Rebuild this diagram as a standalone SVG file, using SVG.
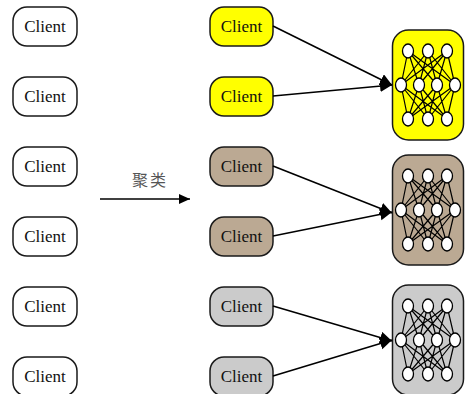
<svg xmlns="http://www.w3.org/2000/svg" width="470" height="394" viewBox="0 0 470 394">
<style>
.c{stroke:#1a1a1a;stroke-width:1.5}
.t{font-family:"Liberation Serif",serif;font-size:17px;fill:#111;text-anchor:middle}
.w{fill:#fff}.y{fill:#ffff00}.b{fill:#bba993}.g{fill:#cbcbcb}
.l{stroke:#000;stroke-width:1.6;fill:none}
.n ellipse{fill:#fff;stroke:#000;stroke-width:1.3}
</style>
<defs>
<marker id="a" markerWidth="14" markerHeight="14" refX="12" refY="6" orient="auto" markerUnits="userSpaceOnUse"><path d="M0 0L12 6L0 12Z" fill="#000"/></marker>
<marker id="s" markerWidth="12" markerHeight="12" refX="11" refY="5" orient="auto" markerUnits="userSpaceOnUse"><path d="M0 0L11 5L0 10Z" fill="#000"/></marker>
<g id="net" class="n">
<path d="M408 51L401 85M408 51L419 85M408 51L437 85M408 51L455 85M428 51L401 85M428 51L419 85M428 51L437 85M428 51L455 85M447 51L401 85M447 51L419 85M447 51L437 85M447 51L455 85M408 119L401 85M408 119L419 85M408 119L437 85M408 119L455 85M428 119L401 85M428 119L419 85M428 119L437 85M428 119L455 85M447 119L401 85M447 119L419 85M447 119L437 85M447 119L455 85" stroke="#000" stroke-width="1.2" fill="none"/>
<ellipse cx="408" cy="51" rx="5.500" ry="7"/><ellipse cx="428" cy="51" rx="5.500" ry="7"/><ellipse cx="447" cy="51" rx="5.500" ry="7"/>
<ellipse cx="401" cy="85" rx="5.500" ry="7"/><ellipse cx="419" cy="85" rx="5.500" ry="7"/><ellipse cx="437" cy="85" rx="5.500" ry="7"/><ellipse cx="455" cy="85" rx="5.500" ry="7"/>
<ellipse cx="408" cy="119" rx="5.500" ry="7"/><ellipse cx="428" cy="119" rx="5.500" ry="7"/><ellipse cx="447" cy="119" rx="5.500" ry="7"/>
</g>
</defs>
<g id="left-1"><rect class="c w" x="13" y="7" width="64" height="39" rx="14"/><text class="t" x="45" y="32">Client</text></g>
<g id="left-2"><rect class="c w" x="13" y="77" width="64" height="39" rx="14"/><text class="t" x="45" y="102">Client</text></g>
<g id="left-3"><rect class="c w" x="13" y="147" width="64" height="39" rx="14"/><text class="t" x="45" y="172">Client</text></g>
<g id="left-4"><rect class="c w" x="13" y="217" width="64" height="39" rx="14"/><text class="t" x="45" y="242">Client</text></g>
<g id="left-5"><rect class="c w" x="13" y="287" width="64" height="39" rx="14"/><text class="t" x="45" y="312">Client</text></g>
<g id="left-6"><rect class="c w" x="13" y="357" width="64" height="39" rx="14"/><text class="t" x="45" y="382">Client</text></g>
<g id="yellow-1"><rect class="c y" x="210" y="7" width="63" height="39" rx="14"/><text class="t" x="241.500" y="32">Client</text></g>
<g id="yellow-2"><rect class="c y" x="210" y="77" width="63" height="39" rx="14"/><text class="t" x="241.500" y="102">Client</text></g>
<g id="brown-1"><rect class="c b" x="210" y="147" width="63" height="39" rx="14"/><text class="t" x="241.500" y="172">Client</text></g>
<g id="brown-2"><rect class="c b" x="210" y="217" width="63" height="39" rx="14"/><text class="t" x="241.500" y="242">Client</text></g>
<g id="grey-1"><rect class="c g" x="210" y="287" width="63" height="39" rx="14"/><text class="t" x="241.500" y="312">Client</text></g>
<g id="grey-2"><rect class="c g" x="210" y="357" width="63" height="39" rx="14"/><text class="t" x="241.500" y="382">Client</text></g>
<g id="model-yellow"><rect class="c y" x="392.500" y="30" width="71" height="110" rx="16"/><use href="#net"/></g>
<g id="model-brown"><rect class="c b" x="392.500" y="155" width="71" height="110" rx="16"/><use href="#net" y="125"/></g>
<g id="model-grey"><rect class="c g" x="392.500" y="285" width="71" height="110" rx="16"/><use href="#net" y="255"/></g>
<g id="connectors">
<line class="l" x1="273" y1="26" x2="392" y2="85" marker-end="url(#a)"/>
<line class="l" x1="273" y1="96" x2="392" y2="85" marker-end="url(#a)"/>
<line class="l" x1="273" y1="166" x2="392" y2="213" marker-end="url(#a)"/>
<line class="l" x1="273" y1="236" x2="392" y2="212" marker-end="url(#a)"/>
<line class="l" x1="273" y1="306" x2="392" y2="341" marker-end="url(#a)"/>
<line class="l" x1="273" y1="376" x2="392" y2="340" marker-end="url(#a)"/>
<line class="l" x1="100" y1="199" x2="190" y2="199" marker-end="url(#s)"/>
</g>
<text x="150" y="186" font-family="'Noto Sans CJK SC',sans-serif" font-size="16" fill="#555" text-anchor="middle" letter-spacing="2">聚类</text>
</svg>
